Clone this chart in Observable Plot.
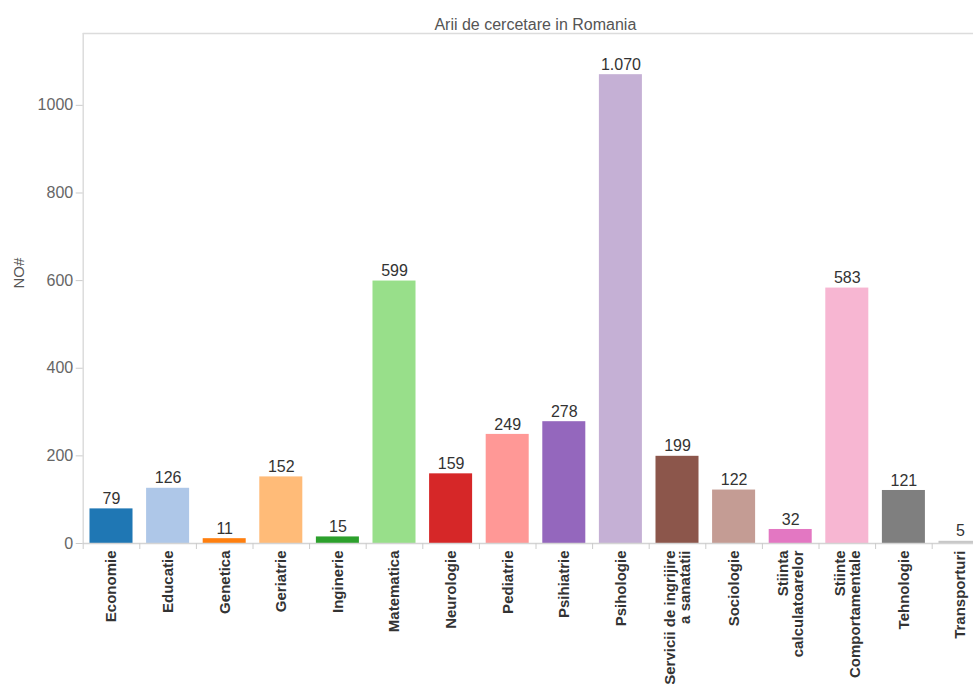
<!DOCTYPE html>
<html>
<head>
<meta charset="utf-8">
<script src="https://cdn.jsdelivr.net/npm/d3@7"></script>
<script src="https://cdn.jsdelivr.net/npm/@observablehq/plot@0.6"></script>
<style>
  html, body { margin: 0; padding: 0; background: #fff; overflow: hidden; }
</style>
</head>
<body>
<div id="chart"></div>
<script>
const title = "Arii de cercetare in Romania";
const yLabel = "NO#";
const categories = [
  "Economie", "Educatie", "Genetica", "Geriatrie", "Inginerie", "Matematica",
  "Neurologie", "Pediatrie", "Psihiatrie", "Psihologie",
  "Servicii de ingrijire\na sanatatii", "Sociologie", "Stiinta\ncalculatoarelor",
  "Stiinte\nComportamentale", "Tehnologie", "Transporturi"
];
const values = [79, 126, 11, 152, 15, 599, 159, 249, 278, 1070, 199, 122, 32, 583, 121, 5];
const colors = [
  "#1f77b4", "#aec7e8", "#ff7f0e", "#ffbb78", "#2ca02c", "#98df8a",
  "#d62728", "#ff9896", "#9467bd", "#c5b0d5", "#8c564b", "#c49c94",
  "#e377c2", "#f7b6d2", "#7f7f7f", "#c7c7c7"
];
const yTicks = [0, 200, 400, 600, 800, 1000];
const yMax = 1164;

const fmt = d3.formatLocale({decimal: ",", thousands: ".", grouping: [3], currency: ["", ""]}).format(",");
const data = categories.map((c, i) => ({cat: c, value: values[i]}));

const x0 = 82.7, x1 = 988.3;
const step = (x1 - x0) / categories.length;
const font = "'Liberation Sans', Arial, sans-serif";

const chart = Plot.plot({
  width: 973,
  height: 684,
  marginTop: 33,
  marginBottom: 141,
  marginLeft: x0,
  marginRight: 0,
  style: {fontFamily: font, background: "#fff", overflow: "hidden"},
  x: {domain: categories, range: [x0, x1], paddingInner: 0.24, paddingOuter: 0.12, round: false, label: null},
  y: {domain: [0, yMax], label: null},
  color: {domain: categories, range: colors},
  marks: [
    Plot.ruleY([yMax], {stroke: "#dcdcdc", strokeWidth: 1.5}),
    Plot.ruleX([categories[0]], {dx: -step / 2, stroke: "#dcdcdc", strokeWidth: 1.5}),
    Plot.barY(data, {x: "cat", y: "value", fill: "cat"}),
    Plot.ruleY([0], {stroke: "#d4d4d4", strokeWidth: 1.5}),
    Plot.axisY({ticks: yTicks, tickFormat: d => String(d), tickSize: 7, tickPadding: 3, fontSize: 16, stroke: "#cccccc", fill: "#666", label: null}),
    Plot.axisX({tickSize: 6, tickFormat: () => "", dx: -step / 2, stroke: "#cccccc", label: null}),
    Plot.axisX({tickSize: 0, tickRotate: -90, tickPadding: 7, fontSize: 15, fontWeight: "bold", fill: "#333", label: null}),
    Plot.text(data, {x: "cat", y: "value", text: d => fmt(d.value), dy: -10, fontSize: 16, fill: "#333"}),
    Plot.text([yLabel], {frameAnchor: "left", dx: -64, rotate: -90, fontSize: 15, fill: "#555"}),
    Plot.text([title], {frameAnchor: "top", dy: -15, dx: 7, fontSize: 16, fill: "#555"})
  ]
});
document.getElementById("chart").append(chart);
</script>
</body>
</html>
